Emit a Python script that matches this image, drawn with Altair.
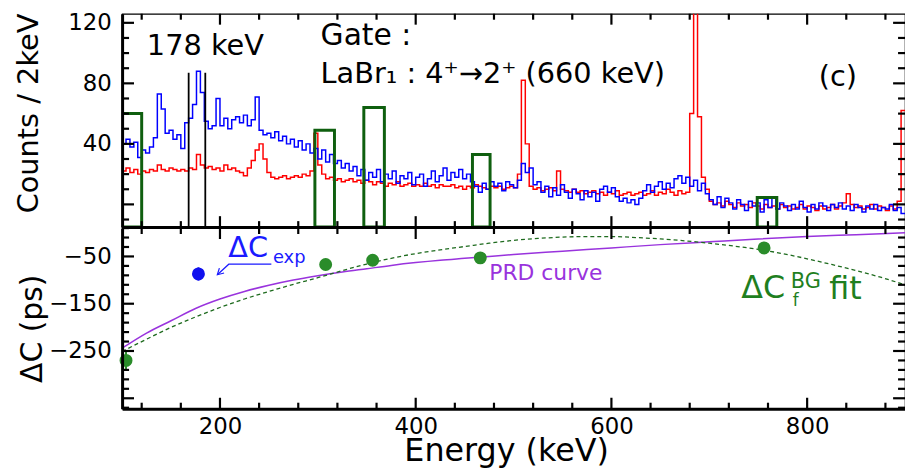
import altair as alt
import pandas as pd

# ---------------- data ----------------
BIN_START = 100      # keV, first bin edge
BIN_WIDTH = 4        # keV per drawn bin
E_END = 900

BLUE_COUNTS = [
    40, 43, 38, 41, 31, 36, 34, 38, 44, 73,
    63, 47, 49, 43, 46, 37, 54, 57, 66, 88,
    74, 55, 50, 52, 70, 52, 57, 50, 56, 58,
    54, 59, 52, 56, 71, 49, 46, 47, 44, 48,
    42, 45, 40, 43, 38, 42, 36, 40, 34, 37,
    30, 36, 28, 33, 27, 29, 24, 27, 22, 25,
    19, 23, 16, 21, 18, 23, 15, 20, 17, 22,
    14, 19, 17, 21, 13, 18, 20, 12, 17, 22,
    15, 19, 24, 16, 21, 18, 23, 17, 20, 15,
    12, 8, 14, 10, 15, 12, 14, 9, 15, 13,
    11, 16, 27, 21, 24, 13, 15, 8, 12, 5,
    11, 6, 13, 8, 4, 10, 7, 3, 9, 5,
    8, 2, 10, 12, 8, 11, 5, 2, 4, 1,
    3, 0, 4, 9, 13, 8, 12, 15, 10, 14,
    11, 17, 19, 14, 18, 12, 16, 9, 14, 7,
    3, 0, 5, -2, 4, 1, -3, 3, 0, -4,
    2, -1, 1, -5, 3, -2, 4, -3, 1, -1,
    -4, 0, -3, 2, -2, -5, 0, -3, 1, -1,
    -4, 0, -2, 1, -3, -1, -4, 0, -2, -5,
    -1, -3, 0, -4, -2, -3, 0, -4, -2, -6,
]

RED_COUNTS = [
    22, 24, 21, 23, 20, 22, 21, 23, 22, 26,
    23, 22, 24, 23, 22, 23, 22, 24, 23, 33,
    26, 24, 25, 23, 24, 22, 26, 23, 24, 22,
    21, 19, 24, 29, 36, 40, 30, 21, 18, 17,
    18, 19, 17, 18, 19, 18, 20, 19, 22, 47,
    26, 20, 17, 18, 16, 17, 15, 16, 17, 15,
    16, 14, 16, 15, 13, 15, 14, 12, 14, 13,
    15, 12, 13, 14, 12, 13, 12, 14, 12, 13,
    11, 13, 12, 12, 13, 11, 12, 10, 12, 11,
    13, 12, 11, 10, 12, 11, 12, 10, 11, 12,
    11, 20, 82, 40, 12, 10, 11, 9, 10, 11,
    9, 22, 10, 9, 8, 10, 8, 9, 7, 8,
    9, 7, 8, 6, 8, 7, 9, 6, 7, 8,
    6, 7, 8, 6, 7, 9, 6, 8, 7, 10,
    8, 6, 9, 7, 8, 60, 160, 58, 18, 10,
    2, 0, 1, -1, 2, 0, -2, 1, -1, 0,
    -2, 1, -1, -3, 0, -2, -1, -3, 0, -2,
    -1, -3, -2, 0, -3, -1, -2, -4, -1, -3,
    -2, 0, -3, -1, 1, 7, 0, -2, -1, -3,
    -2, 0, -3, -1, -2, -4, -1, -3, 2, 62,
]

GATE_LO = [96, 297, 347, 458, 749]
GATE_HI = [120, 317, 368, 476, 769]
GATE_TOP = [60, 49, 64, 33, 4.6]

PEAK_LINES_E = [168, 185]
PEAK_LINES_TOP = [87, 87]

PRD_E = [100, 125, 150, 175, 200, 225, 250, 275, 300, 325, 350, 375, 400,
         425, 450, 475, 500, 550, 600, 650, 700, 750, 800, 850, 900]
PRD_V = [-244, -212, -186, -160, -140, -124, -111, -100, -91, -83, -76, -69, -63,
         -58, -54, -50, -46, -39, -32, -25, -19, -13, -8, -4, 0]

FIT_E = [100, 125, 150, 175, 200, 225, 250, 275, 300, 325, 350, 375, 400, 425,
         450, 475, 500, 525, 550, 575, 600, 625, 650, 675, 700, 725, 750, 775,
         800, 825, 850, 875, 900]
FIT_V = [-251, -225, -200, -178, -158, -140, -124, -109, -95, -80, -66, -54, -44, -36,
         -29, -22, -16, -12, -9, -8, -8, -10, -13, -17, -22, -28, -35, -44,
         -55, -67, -80, -94, -110]

BG_E = [104, 308, 356, 466, 756]
BG_V = [-270, -67, -58, -53, -32]
BG_ERR = [22, 12, 10, 12, 12]

EXP_E = [178]
EXP_V = [-87]
EXP_ERR = [14]

ARROW_E = [252.5, 209, 197.3, 204.2, 197.3, 199.4]
ARROW_V = [-66.4, -66.4, -88.7, -85.1, -88.7, -74.6]
ARROW_GRP = [0, 0, 0, 1, 1, 1]

X_DOMAIN = [100, 900]
Y_TOP_DOMAIN = [-15, 126]
Y_BOT_DOMAIN = [-372, 10]
X_TICKS = list(range(120, 900, 40))
X_MAJOR = [200, 400, 600, 800]
Y_TOP_TICKS = list(range(-10, 121, 10))
Y_TOP_MAJOR = [0, 40, 80, 120]
Y_BOT_TICKS = list(range(-370, 11, 20))
Y_BOT_MAJOR = [-350, -250, -150, -50]

TOP_TEXT = ["178 keV", "Gate :", "LaBr\u2081 : 4\u207a\u21922\u207a (660 keV)", "(c)"]
TOP_TEXT_E = [125.3, 302.8, 302.8, 811.8]
TOP_TEXT_V = [99, 105.4, 80.2, 78]
TOP_TEXT_SIZE = [29, 30, 29, 29]

BOT_TEXT = ["\u0394C", "exp", "PRD curve", "\u0394C", "BG", "f", "fit"]
BOT_TEXT_E = [208.5, 254.1, 475.2, 732.7, 783.3, 785.4, 822.5]
BOT_TEXT_V = [-50.9, -63.5, -99.2, -137, -116, -155.8, -141]
BOT_TEXT_SIZE = [29, 18, 22, 32, 21, 17, 32]
BOT_TEXT_COLOR = ["#1a1aff", "#1a1aff", "#9933dd", "#1f7f1f", "#1f7f1f", "#1f7f1f", "#1f7f1f"]

# ---------------- geometry / style ----------------
W = 789
H = 398
TOP_H = 215
BOT_Y0 = 216
FONT = "DejaVu Sans"
X_TICK_LEN = (6, 11)     # minor, major tick length (px)
Y_TICK_LEN = (7, 12)
TICK_W = 2.2
GREEN_PT = "#2a8c2a"

xs = alt.Scale(domain=X_DOMAIN, nice=False, zero=False)
yt = alt.Scale(domain=Y_TOP_DOMAIN, range=[TOP_H, 0], nice=False, zero=False)
yb = alt.Scale(domain=Y_BOT_DOMAIN, range=[H, BOT_Y0], nice=False, zero=False)

# data units per pixel of each scale (to express tick lengths)
PX_X = (X_DOMAIN[1] - X_DOMAIN[0]) / W
PX_YT = (Y_TOP_DOMAIN[1] - Y_TOP_DOMAIN[0]) / TOP_H
PX_YB = (Y_BOT_DOMAIN[1] - Y_BOT_DOMAIN[0]) / (H - BOT_Y0)

ax_x_labels = alt.Axis(orient="bottom", values=X_MAJOR, ticks=False, tickSize=0,
                       labelFontSize=23, labelPadding=7, labelFont=FONT, domain=True,
                       domainWidth=3, domainColor="black", grid=False,
                       title="Energy (keV)", titleFontSize=32, titleFont=FONT,
                       titleFontWeight="normal", titleX=387, titleY=52,
                       titleBaseline="alphabetic", titleAlign="center", zindex=2)
ax_yt_labels = alt.Axis(orient="left", values=[40, 80, 120], ticks=False, tickSize=0,
                        labelFontSize=23, labelPadding=11, labelFont=FONT, domain=True,
                        domainWidth=3, domainColor="black", grid=False,
                        title="Counts / 2keV", titleFontSize=29, titleFont=FONT,
                        titleFontWeight="normal", titleX=-94, titleY=100, titleAngle=270,
                        titleBaseline="middle", titleAlign="center", zindex=2)
ax_yb_labels = alt.Axis(orient="left", values=[-250, -150, -50], ticks=False, tickSize=0,
                        labelFontSize=23, labelPadding=11, labelFont=FONT, domain=True,
                        domainWidth=3, domainColor="black", grid=False,
                        title="\u0394C (ps)", titleFontSize=30, titleFont=FONT,
                        titleFontWeight="normal", titleX=-90, titleY=317, titleAngle=270,
                        titleBaseline="middle", titleAlign="center", zindex=2)
ax_boundary = alt.Axis(orient="top", offset=-TOP_H, labels=False, ticks=False,
                       domain=True, domainWidth=3, domainColor="black", grid=False,
                       title=None, zindex=2)

# ---------------- tables ----------------
edges = [BIN_START + BIN_WIDTH * i for i in range(len(BLUE_COUNTS))] + [E_END]
blue_df = pd.DataFrame({"E": edges, "counts": BLUE_COUNTS + [BLUE_COUNTS[-1]]})
red_df = pd.DataFrame({"E": edges, "counts": RED_COUNTS + [RED_COUNTS[-1]]})

gates = pd.DataFrame({"lo": GATE_LO, "hi": GATE_HI, "top": GATE_TOP,
                      "base": [Y_TOP_DOMAIN[0]] * len(GATE_LO)})
top_txt = pd.DataFrame({"E": TOP_TEXT_E, "v": TOP_TEXT_V, "t": TOP_TEXT, "s": TOP_TEXT_SIZE})
prd = pd.DataFrame({"E": PRD_E, "v": PRD_V})
fit = pd.DataFrame({"E": FIT_E, "v": FIT_V})
bg = pd.DataFrame({"E": BG_E, "v": BG_V})
ex = pd.DataFrame({"E": EXP_E, "v": EXP_V,
                   "lo": [v - e for v, e in zip(EXP_V, EXP_ERR)],
                   "hi": [v + e for v, e in zip(EXP_V, EXP_ERR)]})
arrow = pd.DataFrame({"E": ARROW_E, "v": ARROW_V, "g": ARROW_GRP,
                      "o": list(range(len(ARROW_E)))})
bot_txt = pd.DataFrame({"E": BOT_TEXT_E, "v": BOT_TEXT_V, "t": BOT_TEXT,
                        "s": BOT_TEXT_SIZE, "c": BOT_TEXT_COLOR})

# ---------------- rule segments: peak markers, error bars and ROOT-style inward ticks ----
top_rules = []
for e, t in zip(PEAK_LINES_E, PEAK_LINES_TOP):
    top_rules.append({"x1": e, "x2": e, "y1": t, "y2": Y_TOP_DOMAIN[0], "w": 1.8, "c": "black"})
for v in X_TICKS:
    L = (X_TICK_LEN[1] if v in X_MAJOR else X_TICK_LEN[0]) * PX_YT
    top_rules.append({"x1": v, "x2": v, "y1": Y_TOP_DOMAIN[1], "y2": Y_TOP_DOMAIN[1] - L,
                      "w": TICK_W, "c": "black"})
    top_rules.append({"x1": v, "x2": v, "y1": Y_TOP_DOMAIN[0], "y2": Y_TOP_DOMAIN[0] + L,
                      "w": TICK_W, "c": "black"})
for v in Y_TOP_TICKS:
    L = (Y_TICK_LEN[1] if v in Y_TOP_MAJOR else Y_TICK_LEN[0]) * PX_X
    top_rules.append({"x1": X_DOMAIN[0], "x2": X_DOMAIN[0] + L, "y1": v, "y2": v,
                      "w": TICK_W, "c": "black"})
    top_rules.append({"x1": X_DOMAIN[1], "x2": X_DOMAIN[1] - L, "y1": v, "y2": v,
                      "w": TICK_W, "c": "black"})

bot_rules = []
for e, v, err in zip(BG_E, BG_V, BG_ERR):
    bot_rules.append({"x1": e, "x2": e, "y1": v - err, "y2": v + err, "w": 2, "c": GREEN_PT})
for v in X_TICKS:
    L = (X_TICK_LEN[1] if v in X_MAJOR else X_TICK_LEN[0]) * PX_YB
    bot_rules.append({"x1": v, "x2": v, "y1": Y_BOT_DOMAIN[1], "y2": Y_BOT_DOMAIN[1] - L,
                      "w": TICK_W, "c": "black"})
    bot_rules.append({"x1": v, "x2": v, "y1": Y_BOT_DOMAIN[0], "y2": Y_BOT_DOMAIN[0] + L,
                      "w": TICK_W, "c": "black"})
for v in Y_BOT_TICKS:
    L = (Y_TICK_LEN[1] if v in Y_BOT_MAJOR else Y_TICK_LEN[0]) * PX_X
    bot_rules.append({"x1": X_DOMAIN[0], "x2": X_DOMAIN[0] + L, "y1": v, "y2": v,
                      "w": TICK_W, "c": "black"})
    bot_rules.append({"x1": X_DOMAIN[1], "x2": X_DOMAIN[1] - L, "y1": v, "y2": v,
                      "w": TICK_W, "c": "black"})

top_rules_df = pd.DataFrame(top_rules)
bot_rules_df = pd.DataFrame(bot_rules)

# ---------------- layers ----------------
red_l = alt.Chart(red_df).mark_line(interpolate="step-after", color="#ff0000",
                                    strokeWidth=1.5, clip=True).encode(
    x=alt.X("E:Q", scale=xs, axis=ax_x_labels),
    y=alt.Y("counts:Q", scale=yt, axis=ax_yt_labels))

blue_l = alt.Chart(blue_df).mark_line(interpolate="step-after", color="#0000ff",
                                      strokeWidth=1.5, clip=True).encode(
    x=alt.X("E:Q", scale=xs, axis=ax_boundary),
    y=alt.Y("counts:Q", scale=yt, axis=None))

gate_l = alt.Chart(gates).mark_rect(fillOpacity=0, stroke="#0f5f0f", strokeWidth=3,
                                    clip=True).encode(
    x=alt.X("lo:Q", scale=xs, axis=None),
    x2="hi:Q",
    y=alt.Y("top:Q", scale=yt, axis=None),
    y2="base:Q")

top_rules_l = alt.Chart(top_rules_df).mark_rule().encode(
    x=alt.X("x1:Q", scale=xs, axis=None),
    x2="x2:Q",
    y=alt.Y("y1:Q", scale=yt, axis=None),
    y2="y2:Q",
    strokeWidth=alt.StrokeWidth("w:Q", scale=None, legend=None),
    color=alt.Color("c:N", scale=None, legend=None))

top_text_l = alt.Chart(top_txt).mark_text(align="left", baseline="alphabetic", font=FONT,
                                          color="black").encode(
    x=alt.X("E:Q", scale=xs, axis=None),
    y=alt.Y("v:Q", scale=yt, axis=None),
    text="t:N",
    size=alt.Size("s:Q", scale=None, legend=None))

prd_l = alt.Chart(prd).mark_line(interpolate="monotone", color="#9933dd",
                                 strokeWidth=1.5).encode(
    x=alt.X("E:Q", scale=xs, axis=None),
    y=alt.Y("v:Q", scale=yb, axis=ax_yb_labels))

fit_l = alt.Chart(fit).mark_line(interpolate="monotone", color="#1e6b1e",
                                 strokeWidth=1.3, strokeDash=[4, 3]).encode(
    x=alt.X("E:Q", scale=xs, axis=None),
    y=alt.Y("v:Q", scale=yb, axis=None))

bot_rules_l = alt.Chart(bot_rules_df).mark_rule().encode(
    x=alt.X("x1:Q", scale=xs, axis=None),
    x2="x2:Q",
    y=alt.Y("y1:Q", scale=yb, axis=None),
    y2="y2:Q",
    strokeWidth=alt.StrokeWidth("w:Q", scale=None, legend=None),
    color=alt.Color("c:N", scale=None, legend=None))

bg_pts = alt.Chart(bg).mark_point(filled=True, shape="circle", size=170, opacity=1,
                                  color=GREEN_PT).encode(
    x=alt.X("E:Q", scale=xs, axis=None),
    y=alt.Y("v:Q", scale=yb, axis=None))

ex_err = alt.Chart(ex).mark_rule(color="#1010ee", strokeWidth=2).encode(
    x=alt.X("E:Q", scale=xs, axis=None),
    y=alt.Y("lo:Q", scale=yb, axis=None),
    y2="hi:Q")

ex_pts = alt.Chart(ex).mark_point(filled=True, shape="circle", size=170, opacity=1,
                                  color="#1010ee").encode(
    x=alt.X("E:Q", scale=xs, axis=None),
    y=alt.Y("v:Q", scale=yb, axis=None))

arrow_l = alt.Chart(arrow).mark_line(color="#1a1aff", strokeWidth=1.2).encode(
    x=alt.X("E:Q", scale=xs, axis=None),
    y=alt.Y("v:Q", scale=yb, axis=None),
    detail="g:N",
    order="o:Q")

bot_text_l = alt.Chart(bot_txt).mark_text(align="left", baseline="alphabetic",
                                          font=FONT).encode(
    x=alt.X("E:Q", scale=xs, axis=None),
    y=alt.Y("v:Q", scale=yb, axis=None),
    text="t:N",
    size=alt.Size("s:Q", scale=None, legend=None),
    color=alt.Color("c:N", scale=None, legend=None))

chart = alt.layer(
    red_l, blue_l, gate_l, top_rules_l, top_text_l,
    prd_l, fit_l, bot_rules_l, bg_pts, ex_err, ex_pts, arrow_l, bot_text_l,
).resolve_scale(
    x="independent", y="independent"
).resolve_axis(
    x="independent", y="independent"
).properties(
    width=W, height=H,
    autosize=alt.AutoSizeParams(type="none"),
    padding={"left": 115, "top": 4, "right": 0, "bottom": 58},
).configure_view(
    stroke="black", strokeWidth=1.2
).configure_axis(
    labelColor="black", titleColor="black"
)

chart.save("out.html", embed_options={"renderer": "svg", "actions": False})
